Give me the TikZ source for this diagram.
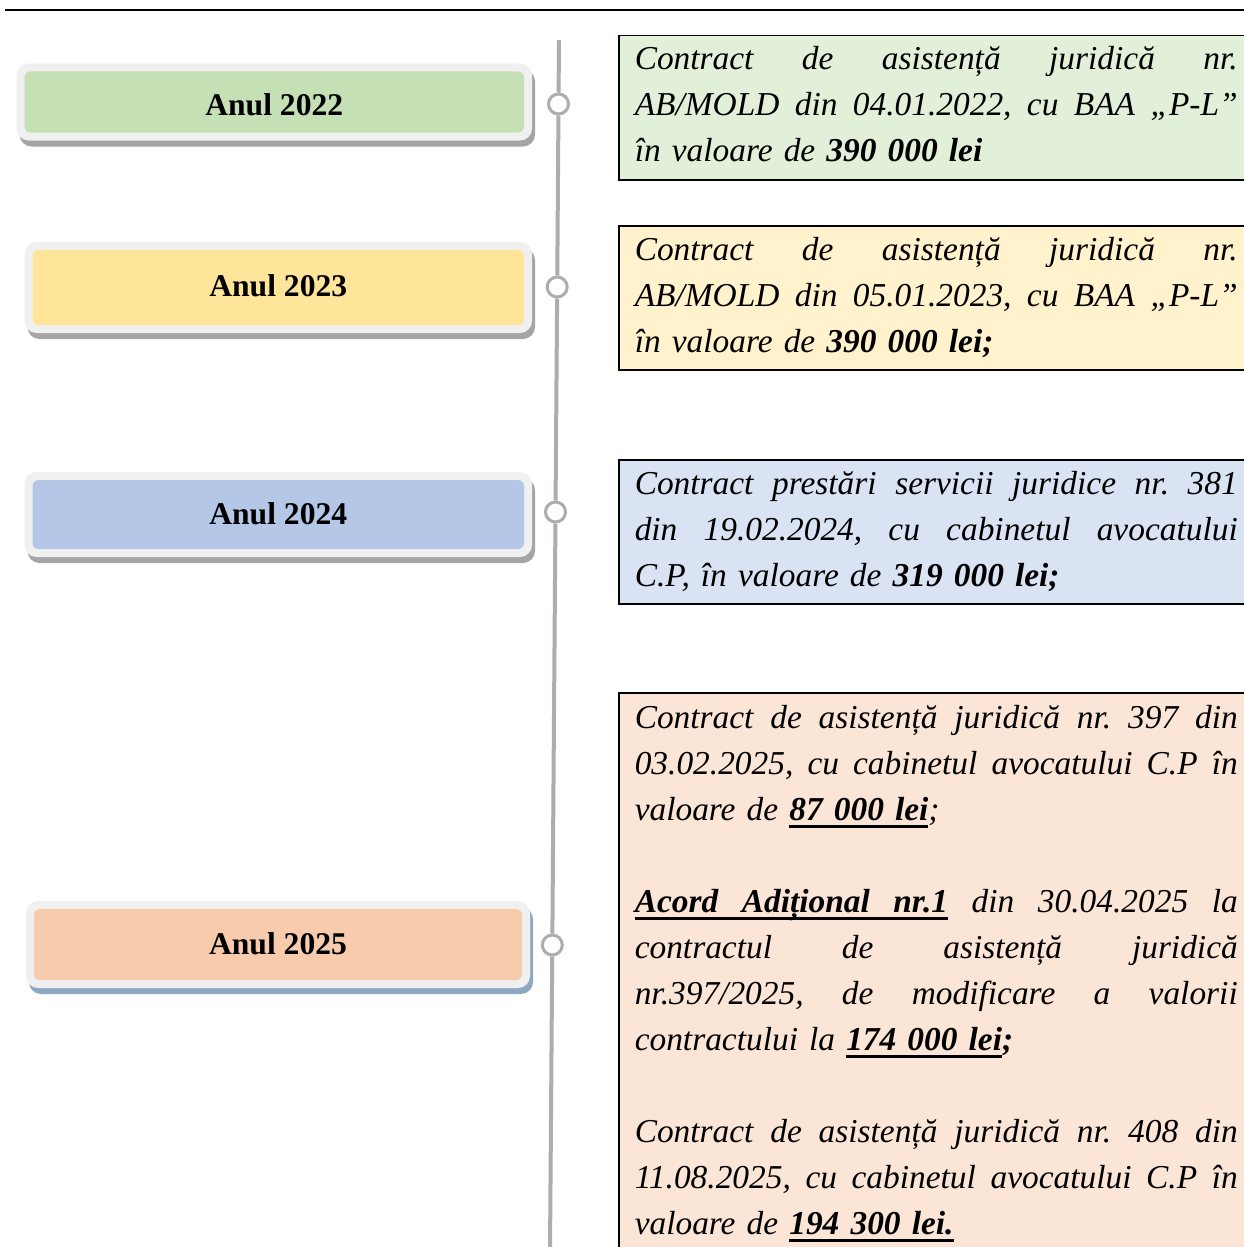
\documentclass[tikz,border=0pt]{standalone}
\usepackage{fontspec}
\setmainfont{Liberation Serif}
\usetikzlibrary{shadows}
\frenchspacing

\definecolor{rimgray}{HTML}{F0F0F0}
\definecolor{shadegray}{HTML}{A5A5A5}
\definecolor{shadeblue}{RGB}{143,168,194}
\definecolor{tlgray}{RGB}{175,171,175}
\definecolor{green22}{HTML}{C5E0B4}
\definecolor{yellow23}{HTML}{FFE599}
\definecolor{blue24}{HTML}{B4C7E7}
\definecolor{peach25}{HTML}{F8CBAD}
\definecolor{lgreen}{HTML}{E2F0D9}
\definecolor{lyellow}{HTML}{FFF2CC}
\definecolor{lblue}{HTML}{DAE3F3}
\definecolor{lpeach}{HTML}{FBE5D6}

\newcommand{\jl}[1]{\makebox[603pt][s]{\spaceskip=0.25em plus 1em\xspaceskip=\spaceskip #1}}
\newcommand{\undl}[1]{\setbox0\hbox{#1}\rlap{\vrule height -4pt depth 6.8pt width \wd0}\box0}
\newcommand{\ulgap}{\leaders\vrule height -4pt depth 6.8pt\hskip 0.25em plus 1em}
\newcommand{\yr}[2]{\raisebox{#1}[21pt][0pt]{#2}}

\tikzset{
  yearbox/.style 2 args={rectangle, rounded corners=12pt, fill=rimgray,
    path picture={\fill[#1, rounded corners=6pt]
      ([shift={(8,8)}]path picture bounding box.north west) rectangle
      ([shift={(-8,-8)}]path picture bounding box.south east);},
    drop shadow={shadow xshift=3pt, shadow yshift=-6pt, fill=#2, opacity=1},
    font=\fontsize{31.6}{36}\selectfont\bfseries},
  milestone/.style={circle, draw=tlgray, line width=3pt, fill=white,
    minimum size=20pt, inner sep=0pt},
  contract/.style={rectangle, draw=black, line width=1.5pt, fill=#1,
    anchor=north west, text width=603pt, inner xsep=16pt, inner ysep=2pt,
    text height=33pt, text depth=107pt, align=left,
    font=\fontsize{33.4}{46}\selectfont\itshape}
}

\begin{document}
\begin{tikzpicture}[x=1pt, y=-1pt]
    \useasboundingbox (0,0) rectangle (1244,1247);
    \clip (0,0) rectangle (1244,1247);

    \coordinate (hl) at (5,10);
    \coordinate (hr) at (1244,10);
    \draw[line width=2pt] (hl) -- (hr);

    \node[yearbox={green22}{shadegray}, minimum width=515.5pt, minimum height=77pt]
      (y22) at (274.25,102) {\yr{-3pt}{Anul 2022}};
    \node[yearbox={yellow23}{shadegray}, minimum width=507.5pt, minimum height=91pt]
      (y23) at (278.25,287.5) {\yr{2pt}{Anul 2023}};
    \node[yearbox={blue24}{shadegray}, minimum width=507.5pt, minimum height=85pt]
      (y24) at (278.25,514.5) {\yr{1pt}{Anul 2024}};
    \node[yearbox={peach25}{shadeblue}, minimum width=504pt, minimum height=87pt]
      (y25) at (278,944.5) {\yr{1pt}{Anul 2025}};

    \coordinate (top) at (559,40);
    \coordinate (bot) at (550,1250);
    \node[milestone] (m22) at (558.5,104) {};
    \node[milestone] (m23) at (557.2,287) {};
    \node[milestone] (m24) at (555.5,512) {};
    \node[milestone] (m25) at (552.3,945) {};

    \draw[tlgray, line width=4pt] (top) -- (m22) -- (m23) -- (m24) -- (m25) -- (bot);

    \node[contract=lgreen, text height=32pt, text depth=108pt] (c22) at (618,35) {%
      \jl{Contract de asistență juridică nr.}\\
      \jl{AB/MOLD din 04.01.2022, cu BAA „P-L”}\\
      în valoare de \textbf{390 000 lei}};

    \node[contract=lyellow] (c23) at (618,225) {%
      \jl{Contract de asistență juridică nr.}\\
      \jl{AB/MOLD din 05.01.2023, cu BAA „P-L”}\\
      în valoare de \textbf{390 000 lei;}};

    \node[contract=lblue] (c24) at (618,459) {%
      \jl{Contract prestări servicii juridice nr. 381}\\
      \jl{din 19.02.2024, cu cabinetul avocatului}\\
      C.P, în valoare de \textbf{319 000 lei;}};

    \node[contract=lpeach, text height=34pt, text depth=540pt] (c25) at (618,692) {%
      \jl{Contract de asistență juridică nr. 397 din}\\
      \jl{03.02.2025, cu cabinetul avocatului C.P în}\\
      valoare de \textbf{\undl{87 000 lei}};\\[46pt]
      \jl{\textbf{\undl{Acord}\ulgap\undl{Adițional}\ulgap\undl{nr.1}} din 30.04.2025 la}\\
      \jl{contractul de asistență juridică}\\
      \jl{nr.397/2025, de modificare a valorii}\\
      contractului la \textbf{\undl{174 000 lei};}\\[46pt]
      \jl{Contract de asistență juridică nr. 408 din}\\
      \jl{11.08.2025, cu cabinetul avocatului C.P în}\\
      valoare de \textbf{\undl{194 300 lei.}}};
\end{tikzpicture}
\end{document}
